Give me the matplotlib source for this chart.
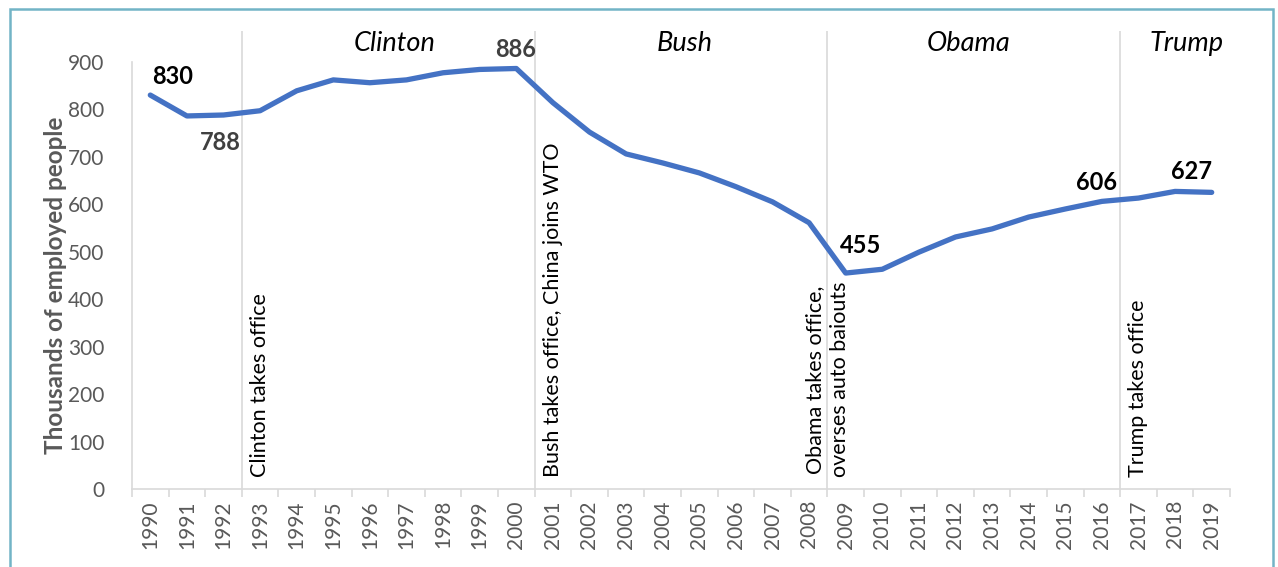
import matplotlib.pyplot as plt
from matplotlib.patches import Rectangle

# employment, thousands of people
years = list(range(1990, 2020))
employed = [830, 786, 788, 797, 839, 862, 856, 862, 877, 884,
            886, 814, 752, 706, 687, 666, 637, 605, 561, 455,
            463, 499, 531, 548, 573, 590, 606, 613, 627, 625]

events = ['Clinton takes office', 'Bush takes office, China joins WTO',
          'Obama takes office,\noverses auto baiouts', 'Trump takes office']
event_years = [1993, 2001, 2009, 2017]
presidents = ['Clinton', 'Bush', 'Obama', 'Trump']

plt.rcParams['font.family'] = ['Lato', 'DejaVu Sans']

fig = plt.figure(figsize=(12.78, 5.67), dpi=100)
fig.patches.append(Rectangle((10/1278, -0.05), (1273-10)/1278, 1.05 - 9/567,
                             transform=fig.transFigure, fill=False,
                             edgecolor='#72b4c6', linewidth=1.8))

ax = fig.add_axes([132/1278, 78/567, 1098/1278, 458/567])
x = list(range(len(years)))
ax.plot(x, employed, color='#4472c4', linewidth=3.8, solid_capstyle='round', zorder=3)

ax.set_xlim(-0.5, len(years) - 0.5)
ax.set_ylim(0, 965)
ax.set_yticks(range(0, 901, 100))
ax.set_xticks(x)
ax.set_xticklabels([str(y) for y in years], rotation=90)
ax.set_xticks([i - 0.5 for i in range(len(years) + 1)], minor=True)
ax.tick_params(axis='x', which='major', length=0, pad=8, labelsize=15, labelcolor='#595959')
ax.tick_params(axis='x', which='minor', length=6, color='#d9d9d9', width=1.2)
ax.tick_params(axis='y', length=0, pad=20, labelsize=15, labelcolor='#595959')

for s in ['top', 'right']:
    ax.spines[s].set_visible(False)
ax.spines['left'].set_bounds(0, 900)
ax.spines['left'].set_color('#d9d9d9')
ax.spines['bottom'].set_color('#d9d9d9')
ax.spines['left'].set_linewidth(1.2)
ax.spines['bottom'].set_linewidth(1.2)

ax.set_ylabel('Thousands of employed people', fontsize=17.5, fontweight='bold',
              color='#595959')
ax.yaxis.set_label_coords(-0.059, 0.445)

for ev, yr in zip(events, event_years):
    xi = years.index(yr) - 0.5
    ax.axvline(xi, color='#d9d9d9', linewidth=1.2, zorder=1)
    if '\n' in ev:
        ax.text(xi, 25, ev, rotation=90, ha='center', va='bottom',
                fontsize=15.5, color='black', linespacing=1.3)
    else:
        ax.text(xi + 0.22, 25, ev, rotation=90, ha='left', va='bottom',
                fontsize=15.5, color='black')

pres_x = [6.68, 14.59, 22.36, 28.31]
for name, px in zip(presidents, pres_x):
    ax.text(px, 938, name, ha='center', va='center', fontsize=19.5,
            fontstyle='italic', color='black')

# data labels
labels = [(1990, 0.05, 870, 'left', 'black'),
          (1992, 1.91, 731, 'center', '#404040'),
          (2000, 9.98, 925, 'center', '#404040'),
          (2009, 19.42, 512, 'center', 'black'),
          (2016, 25.85, 645, 'center', 'black'),
          (2018, 28.44, 668, 'center', 'black')]
for yr, lx, ly, ha, c in labels:
    ax.text(lx, ly, str(employed[years.index(yr)]), ha=ha, va='center',
            fontsize=17, fontweight='bold', color=c)

fig.savefig('out.png', dpi=100)
